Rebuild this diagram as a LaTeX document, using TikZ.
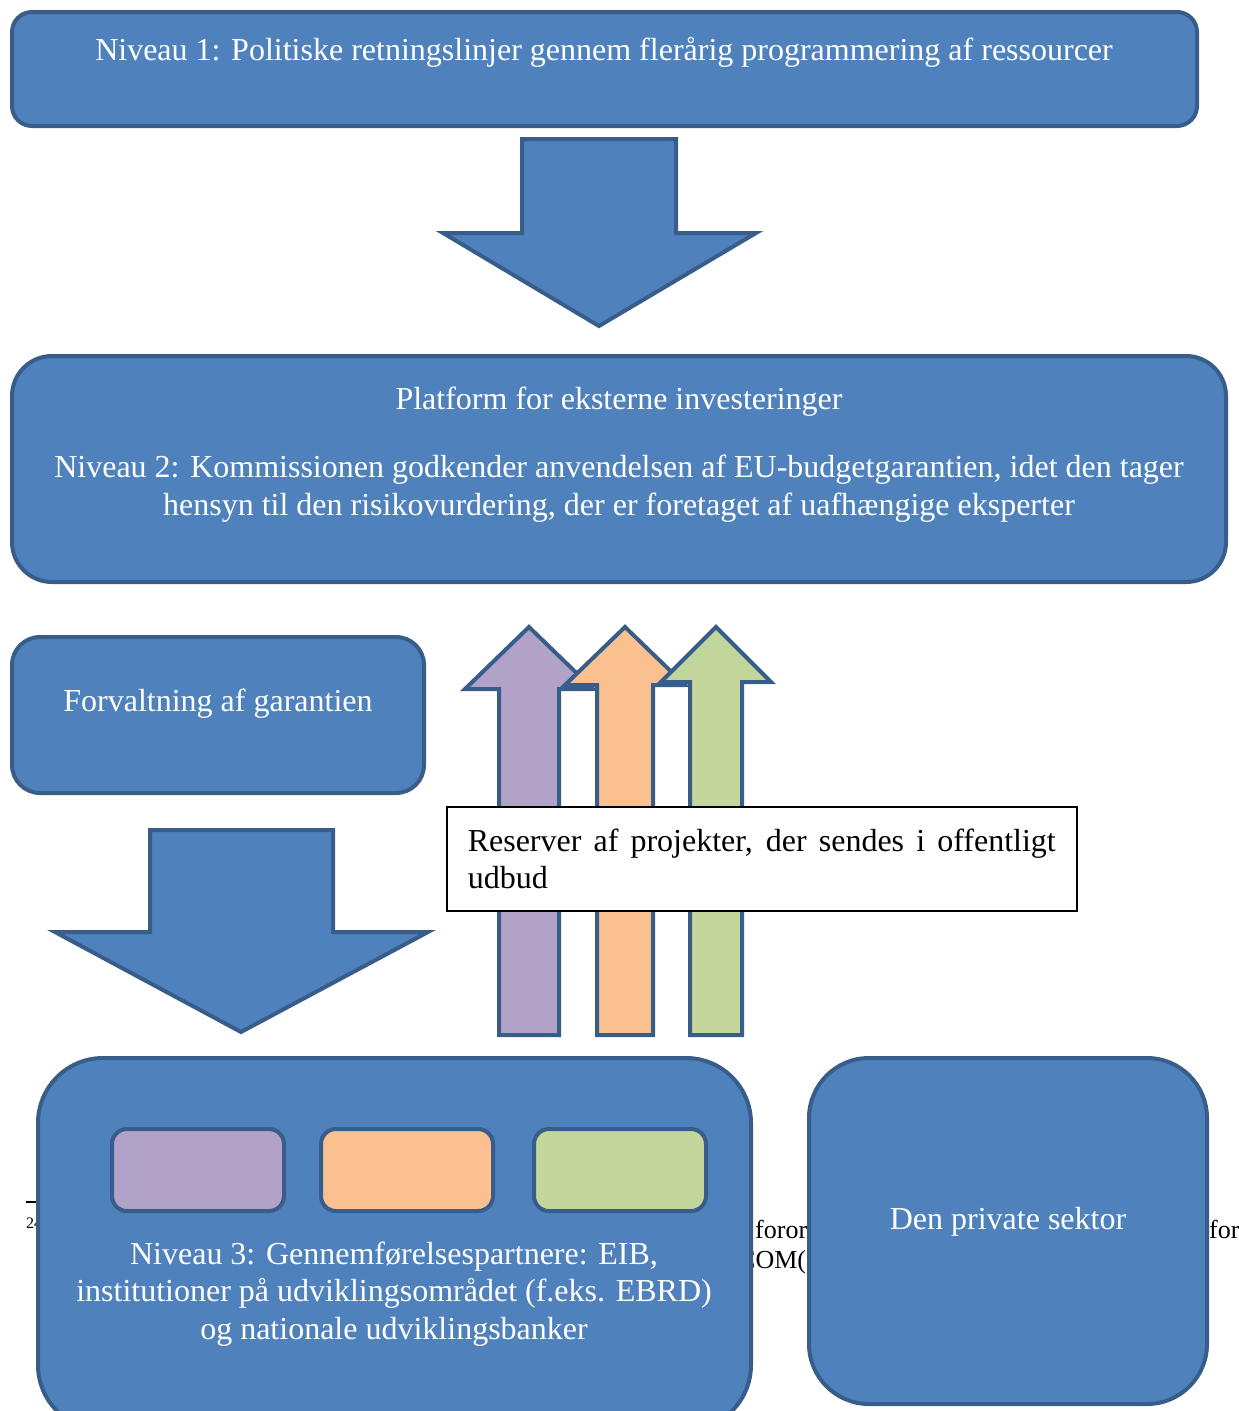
\documentclass[tikz,border=0pt]{standalone}
\usepackage{fontspec}
\setmainfont{Liberation Serif}
\usetikzlibrary{positioning}
\definecolor{niveaublue}{HTML}{4F81BD}
\definecolor{niveauedge}{HTML}{385D8A}
\definecolor{lilac}{HTML}{B3A2C7}
\definecolor{peach}{HTML}{FAC090}
\definecolor{sage}{HTML}{C3D69B}
\tikzstyle{levelbox} = [rectangle,
                       draw=niveauedge,
                       fill=niveaublue,
                       line width=4pt,
                       inner sep=0pt]
\tikzstyle{leveltext} = [text=white,
                        font=\fontsize{32}{37.5}\selectfont,
                        align=center,
                        anchor=base]
\tikzstyle{blockarrow} = [draw=niveauedge,
                         fill=niveaublue,
                         line width=4pt,
                         line join=miter]
\tikzstyle{memberbox} = [rectangle,
                        rounded corners=15pt,
                        draw=niveauedge,
                        line width=4pt,
                        minimum width=172pt,
                        minimum height=82pt]
\tikzstyle{notetext} = [font=\fontsize{26}{30}\selectfont,
                       anchor=base west,
                       inner sep=0pt]

\begin{document}
\begin{tikzpicture}[x=1pt, y=-1pt]
    \useasboundingbox (0,0) rectangle (1239,1411);
    \clip (0,0) rectangle (1239,1411);
    % footnote text of the page underneath
    \draw[line width=1.5pt] (26,1202) -- (70,1202);
    \node[notetext, font=\fontsize{16}{18}\selectfont] (fnmark) at (26,1228) {24};
    \node[notetext] (fnfor) at (755,1238) {foror};
    \node[notetext] (fncom) at (738,1268) {COM(};
    \node[notetext] (fnright) at (1209,1238) {for};
    % level 1
    \node[levelbox, rounded corners=20pt, minimum width=1185pt, minimum height=114pt] (niveau1) at (604.5,69) {};
    \node[leveltext] (niveau1txt) at (604,60) {Niveau 1: Politiske retningslinjer gennem flerårig programmering af ressourcer};
    \draw[blockarrow] (522,139) -- (676,139) -- (676,233) -- (756,233) -- (599,326) -- (443,233) -- (522,233) -- cycle;
    % level 2
    \node[levelbox, rounded corners=40pt, minimum width=1214pt, minimum height=226pt] (niveau2) at (619,469) {};
    \node[leveltext] (platform) at (619,409) {Platform for eksterne investeringer};
    \node[leveltext] (niveau2txt) at (619,515) {Niveau 2: Kommissionen godkender anvendelsen af EU-budgetgarantien, idet den tager\\hensyn til den risikovurdering, der er foretaget af uafhængige eksperter};
    \node[levelbox, rounded corners=28pt, minimum width=412pt, minimum height=156pt] (forvaltning) at (218,715) {};
    \node[leveltext] (forvaltningtxt) at (218,711) {Forvaltning af garantien};
    \draw[blockarrow] (150,830) -- (333,830) -- (333,932) -- (428,932) -- (241,1032) -- (55,932) -- (150,932) -- cycle;
    % arrows from the partners
    \foreach \tip/\hw/\base/\sw/\col in {529/64/689/30/lilac, 625/60/685/28/peach, 716/55/682/26/sage}
      \draw[blockarrow, fill=\col] (\tip-\sw,1035) -- (\tip-\sw,\base) -- (\tip-\hw,\base) -- (\tip,627)
        -- (\tip+\hw,\base) -- (\tip+\sw,\base) -- (\tip+\sw,1035) -- cycle;
    \node[rectangle, draw=black, fill=white, line width=1.5pt, anchor=north west,
          text width=588pt, inner xsep=21pt, inner ysep=0pt, minimum height=104pt,
          align=justify, font=\fontsize{32}{37.5}\selectfont] (reserver) at (446,806)
          {\hyphenpenalty=10000 Reserver af projekter, der sendes i offentligt udbud};
    % level 3
    \node[levelbox, rounded corners=65pt, minimum width=713pt, minimum height=372pt] (niveau3) at (394.5,1244) {};
    \node[memberbox, fill=lilac] (lilacbox) at (198,1170) {};
    \node[memberbox, fill=peach, right=33pt of lilacbox] (peachbox) {};
    \node[memberbox, fill=sage, right=37pt of peachbox] (sagebox) {};
    \node[leveltext] (niveau3txt) at (394,1339) {Niveau 3: Gennemførelsespartnere: EIB,\\institutioner på udviklingsområdet (f.eks. EBRD)\\og nationale udviklingsbanker};
    \node[levelbox, rounded corners=60pt, minimum width=398pt, minimum height=346pt] (privat) at (1008,1231) {};
    \node[leveltext] (privattxt) at (1008,1229) {Den private sektor};
\end{tikzpicture}
\end{document}
